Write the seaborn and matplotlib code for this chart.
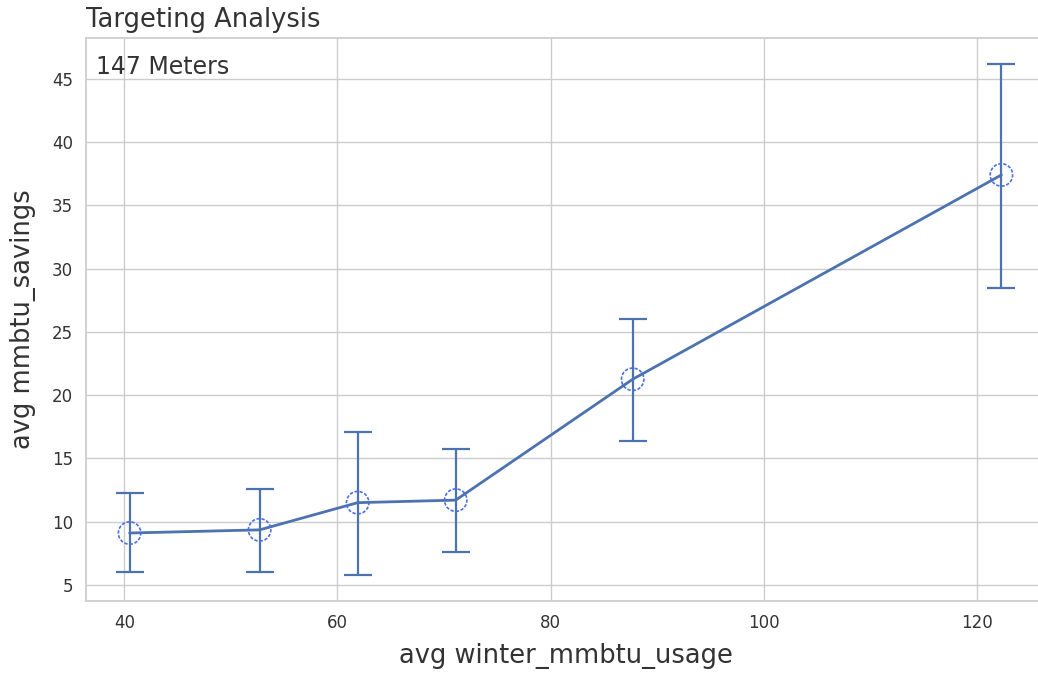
import matplotlib
matplotlib.use("Agg")
import matplotlib.pyplot as plt
import seaborn as sns
import pandas as pd
import numpy as np

# Binned averages: winter usage vs. savings, with per-bin error ranges
avg_winter_usage = [40.5, 52.7, 61.9, 71.1, 87.7, 122.3]
avg_savings = [9.1, 9.35, 11.5, 11.7, 21.25, 37.4]
err_low = [6.05, 6.05, 5.75, 7.6, 16.35, 28.45]
err_high = [12.25, 12.6, 17.1, 15.75, 26.05, 46.2]
meter_count = 147
x_ticks = [40, 60, 80, 100, 120]

df = pd.DataFrame({
    "avg winter_mmbtu_usage": avg_winter_usage,
    "avg mmbtu_savings": avg_savings,
})

sns.set_theme(style="whitegrid")
text_color = "#333333"
W, H = 1038, 673
fig, ax = plt.subplots(figsize=(W / 100, H / 100), dpi=100)
# plot area runs slightly past the right edge of the canvas
ax.set_position([86 / W, 1 - 601 / H, (1045 - 86) / W, (601 - 38) / H])

line_color = "#4C72B0"
sns.lineplot(data=df, x="avg winter_mmbtu_usage", y="avg mmbtu_savings",
             color=line_color, linewidth=2, ax=ax)

y = np.array(avg_savings)
yerr = np.vstack([y - np.array(err_low), np.array(err_high) - y])
ax.errorbar(avg_winter_usage, avg_savings, yerr=yerr, fmt="none",
            ecolor=line_color, elinewidth=1.6, capsize=10, capthick=1.6, zorder=3)

sns.scatterplot(data=df, x="avg winter_mmbtu_usage", y="avg mmbtu_savings",
                s=260, facecolors="none", edgecolor="#4a6fe3", linewidth=1.2,
                linestyle=(0, (2, 1)), ax=ax, zorder=4)

ax.set_xticks(x_ticks)
ax.set_title("Targeting Analysis", loc="left", fontsize=18.5, color=text_color, pad=8)
ax.text(0.01, 0.97, f"{meter_count} Meters", transform=ax.transAxes,
        fontsize=17, va="top", ha="left", color=text_color)
ax.set_xlabel("avg winter_mmbtu_usage", fontsize=18.5, color=text_color, labelpad=8)
ax.set_ylabel("avg mmbtu_savings", fontsize=18.5, color=text_color, labelpad=11)
ax.tick_params(labelsize=12, labelcolor=text_color)

fig.savefig("out.png", dpi=100)
